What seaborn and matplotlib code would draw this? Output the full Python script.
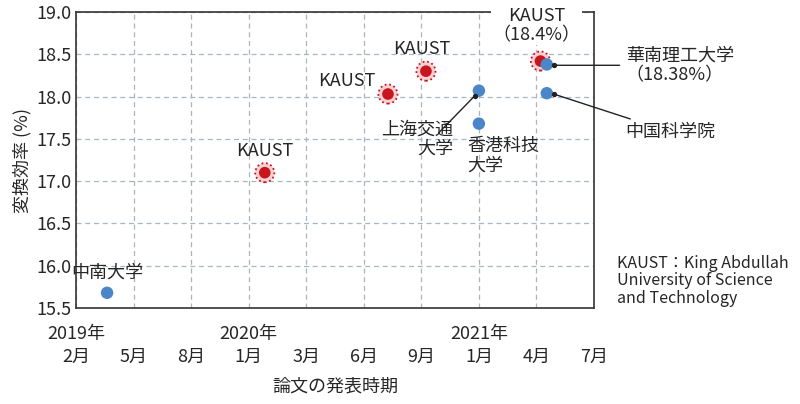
import matplotlib
matplotlib.use("Agg")
import matplotlib.pyplot as plt
import pandas as pd
import seaborn as sns

month_labels = ["2月", "5月", "8月", "1月", "3月", "6月", "9月", "1月", "4月", "7月"]
year_labels = {0: "2019年", 3: "2020年", 7: "2021年"}

names = ["中南大学", "KAUST1", "KAUST2", "KAUST3", "上海交通", "香港科技", "KAUST4", "華南理工", "中国科学院"]
pos = [0.54, 3.28, 5.42, 6.08, 7.0, 7.0, 8.07, 8.18, 8.18]
eff = [15.68, 17.10, 18.03, 18.30, 18.07, 17.68, 18.42, 18.38, 18.04]
group = ["other", "KAUST", "KAUST", "KAUST", "other", "other", "KAUST", "other", "other"]

df = pd.DataFrame({"name": names, "pos": pos, "eff": eff, "group": group})

sns.set_style("white")
plt.rcParams["font.family"] = ["Noto Sans CJK JP", "DejaVu Sans"]

blue = "#4a86c8"
red = "#c8161e"

fig = plt.figure(figsize=(8, 4.04), dpi=100)
ax = fig.add_axes([0.095, 0.2376, 0.6475, 0.7327])

kd = df[df.group == "KAUST"]
od = df[df.group == "other"]
ax.scatter(kd.pos, kd.eff, s=190, facecolor="#f6d0d2", edgecolor=red,
           linewidth=1.3, linestyle=(0, (1, 1.5)), zorder=3)
sns.scatterplot(data=kd, x="pos", y="eff", color=red, s=70, edgecolor="none", ax=ax, zorder=4)
sns.scatterplot(data=od, x="pos", y="eff", color=blue, s=80, edgecolor="none", ax=ax, zorder=4)

fs = 13
ax.set_xlim(0, 9)
ax.set_ylim(15.5, 19.0)
ax.set_yticks([15.5, 16.0, 16.5, 17.0, 17.5, 18.0, 18.5, 19.0])
ax.set_yticklabels([f"{v:.1f}" for v in ax.get_yticks()], fontsize=fs)
ax.set_xticks(range(10))
ax.set_xticklabels(month_labels, fontsize=fs)
ax.tick_params(axis="x", length=0, pad=29)
ax.tick_params(axis="y", length=0, pad=3)
ax.grid(True, linestyle=(0, (4, 3)), color="#a9b6bf", linewidth=0.9)
for sp in ax.spines.values():
    sp.set_color("#333333")
    sp.set_linewidth(1.2)
ax.set_xlabel("論文の発表時期", fontsize=fs, labelpad=8)
ax.set_ylabel("変換効率 (%)", fontsize=fs, labelpad=4)

for p, t in year_labels.items():
    ax.annotate(t, xy=(p, 15.5), xytext=(0, -19), textcoords="offset points",
                ha="center", va="center", fontsize=fs, annotation_clip=False)

ax.text(0.54, 15.92, "中南大学", ha="center", va="center", fontsize=fs)
ax.text(3.28, 17.36, "KAUST", ha="center", va="center", fontsize=fs)
ax.text(4.7, 18.18, "KAUST", ha="center", va="center", fontsize=fs)
ax.text(6.0, 18.56, "KAUST", ha="center", va="center", fontsize=fs)
ax.text(8.0, 18.84, "KAUST\n（18.4%）", ha="center", va="center", fontsize=fs,
        linespacing=1.05, bbox=dict(facecolor="white", edgecolor="none", pad=1), zorder=6)
ax.text(6.55, 17.5, "上海交通\n大学", ha="right", va="center", fontsize=fs, linespacing=1.1)
ax.text(6.8, 17.3, "香港科技\n大学", ha="left", va="center", fontsize=fs, linespacing=1.1)
ax.plot([6.93, 6.3], [18.01, 17.57], color="#222222", lw=1, zorder=5)
ax.scatter([6.93], [18.01], s=8, color="#222222", zorder=5)

ax.annotate("華南理工大学\n（18.38%）", xy=(8.3, 18.37), xytext=(9.55, 18.37),
            ha="left", va="center", fontsize=fs, linespacing=1.1, annotation_clip=False,
            arrowprops=dict(arrowstyle="-", color="#222222", lw=1))
ax.annotate("中国科学院", xy=(8.3, 18.03), xytext=(9.55, 17.58),
            ha="left", va="center", fontsize=fs, annotation_clip=False,
            arrowprops=dict(arrowstyle="-", color="#222222", lw=1))
ax.scatter([8.3, 8.3], [18.37, 18.03], s=8, color="#222222", zorder=5, clip_on=False)

fig.text(0.771, 0.37, "KAUST：King Abdullah\nUniversity of Science\nand Technology",
         ha="left", va="top", fontsize=11.5, linespacing=1.05)

fig.savefig("out.png", dpi=100)
